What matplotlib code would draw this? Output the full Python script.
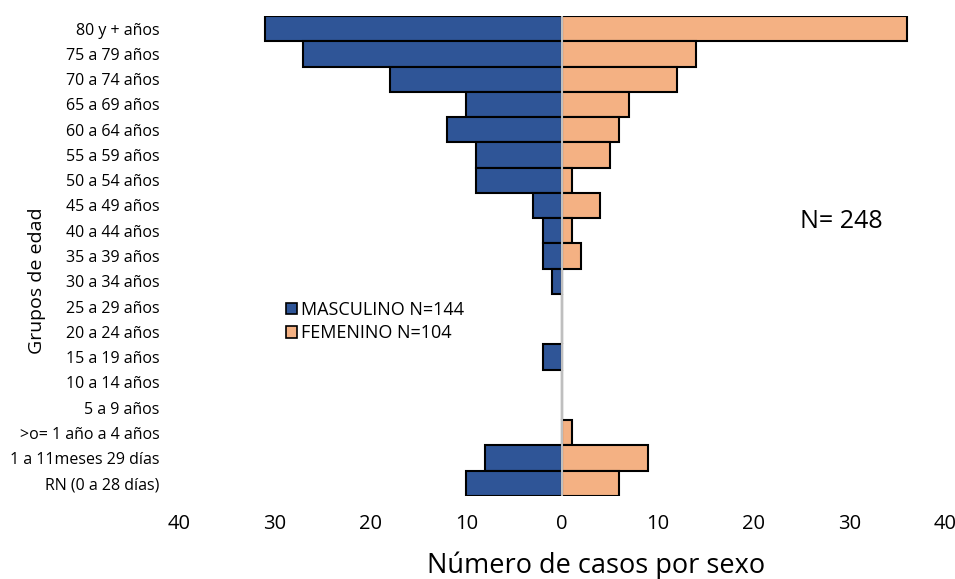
import matplotlib
matplotlib.use("Agg")
import matplotlib.pyplot as plt
from matplotlib.patches import Patch
import numpy as np

plt.rcParams['font.family'] = ['Open Sans', 'DejaVu Sans']

grupos = ["80 y + años", "75 a 79 años", "70 a 74 años", "65 a 69 años",
          "60 a 64 años", "55 a 59 años", "50 a 54 años", "45 a 49 años",
          "40 a 44 años", "35 a 39 años", "30 a 34 años", "25 a 29 años",
          "20 a 24 años", "15 a 19 años", "10 a 14 años", "5 a 9 años",
          ">o= 1 año a 4 años", "1 a 11meses 29 días", "RN (0 a 28 días)"]
masculino = [31, 27, 18, 10, 12, 9, 9, 3, 2, 2, 1, 0, 0, 2, 0, 0, 0, 8, 10]
femenino = [36, 14, 12, 7, 6, 5, 1, 4, 1, 2, 0, 0, 0, 0, 0, 0, 1, 9, 6]
ticks = [-40, -30, -20, -10, 0, 10, 20, 30, 40]

azul = "#2F5597"
naranja = "#F4B183"

fig = plt.figure(figsize=(9.55, 5.79), dpi=100)
ax = fig.add_axes([179/955, 1-496/579, (945-179)/955, (496-16)/579])

n = len(grupos)
y = np.arange(n)[::-1]
ax.barh(y, -np.array(masculino), height=1.0, color=azul,
        edgecolor="black", linewidth=1.5)
ax.barh(y, femenino, height=1.0, color=naranja,
        edgecolor="black", linewidth=1.5)
ax.axvline(0, color="#BFBFBF", linewidth=1.5, zorder=3)

ax.set_xlim(-40, 40)
ax.set_ylim(-0.5, n - 0.5)
ax.set_xticks(ticks)
ax.set_xticklabels([str(abs(t)) for t in ticks], fontsize=14.5, color="#000000")
ax.set_yticks(y)
ax.set_yticklabels(grupos, fontsize=11.5)
ax.tick_params(axis="x", length=0, pad=13)
ax.tick_params(axis="y", length=0, pad=14)
for s in ax.spines.values():
    s.set_visible(False)

fig.text(37/955, 1-281/579, "Grupos de edad", rotation=90,
         ha="center", va="center", fontsize=14)
fig.text(596/955, 1-566/579, "Número de casos por sexo",
         ha="center", va="center", fontsize=19.5)
fig.text(841/955, 1-222/579, "N= 248", ha="center", va="center", fontsize=18)

handles = [Patch(facecolor=azul, edgecolor="black", linewidth=1.2),
           Patch(facecolor=naranja, edgecolor="black", linewidth=1.2)]
fig.legend(handles, ["MASCULINO N=144", "FEMENINO N=104"],
           loc="upper left", bbox_to_anchor=(277/955, 1-292/579),
           frameon=False, fontsize=13, handlelength=0.6, handleheight=0.6,
           handletextpad=0.25, labelspacing=0.3, borderpad=0)

fig.savefig("out.png", dpi=100)
